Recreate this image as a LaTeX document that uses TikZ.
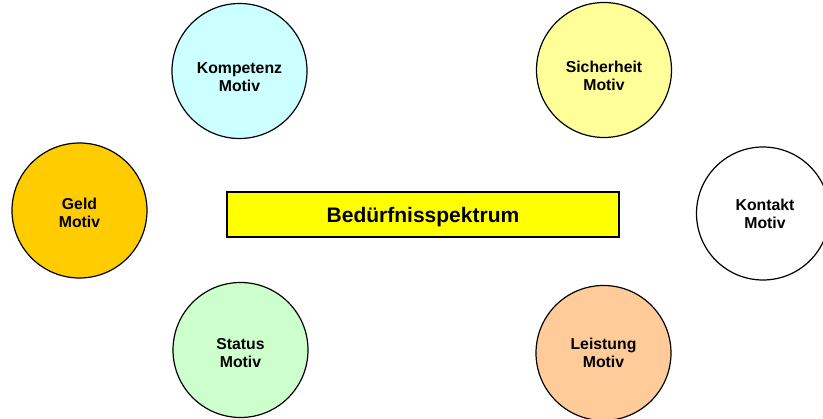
\documentclass[tikz,border=0pt]{standalone}
\usepackage{fontspec}
\setmainfont{Liberation Sans}
\definecolor{kompetenzcol}{HTML}{CCFFFF}
\definecolor{sicherheitcol}{HTML}{FFFF99}
\definecolor{geldcol}{HTML}{FFCC00}
\definecolor{statuscol}{HTML}{CCFFCC}
\definecolor{leistungcol}{HTML}{FFCC99}
\definecolor{spektrumcol}{HTML}{FFFF00}
\tikzset{
  motiv/.style={circle, draw=black, line width=1.2pt, minimum size=135pt, inner sep=0pt},
  motivtext/.style={align=center, font=\bfseries\fontsize{15.8}{18}\selectfont},
  spektrum/.style={rectangle, draw=black, line width=1.6pt, fill=spektrumcol, text depth=0pt,
    minimum width=392pt, minimum height=45pt, font=\bfseries\fontsize{21}{24}\selectfont}
}
\begin{document}
\begin{tikzpicture}[x=1pt, y=-1pt]
    \useasboundingbox (0,0) rectangle (823,419);
    % motive
    \node[motiv, fill=kompetenzcol, label={[motivtext, yshift=-6pt]center:Kompetenz\\Motiv}] (kompetenz) at (239.5,71) {};
    \node[motiv, fill=sicherheitcol, label={[motivtext, yshift=-6pt]center:Sicherheit\\Motiv}] (sicherheit) at (604,70) {};
    \node[motiv, fill=geldcol, label={[motivtext, yshift=-2pt]center:Geld\\Motiv}] (geld) at (79.5,210.5) {};
    \node[motiv, fill=white, minimum size=133pt, label={[motivtext, xshift=2pt]center:Kontakt\\Motiv}] (kontakt) at (763,213.5) {};
    \node[motiv, fill=statuscol, label={[motivtext, yshift=-3pt]center:Status\\Motiv}] (status) at (240.5,350) {};
    \node[motiv, fill=leistungcol, label={[motivtext]center:Leistung\\Motiv}] (leistung) at (603.5,353) {};
    % mitte
    \node[spektrum] (bedarf) at (423,214.5) {Bedürfnisspektrum};
  \end{tikzpicture}
\end{document}
